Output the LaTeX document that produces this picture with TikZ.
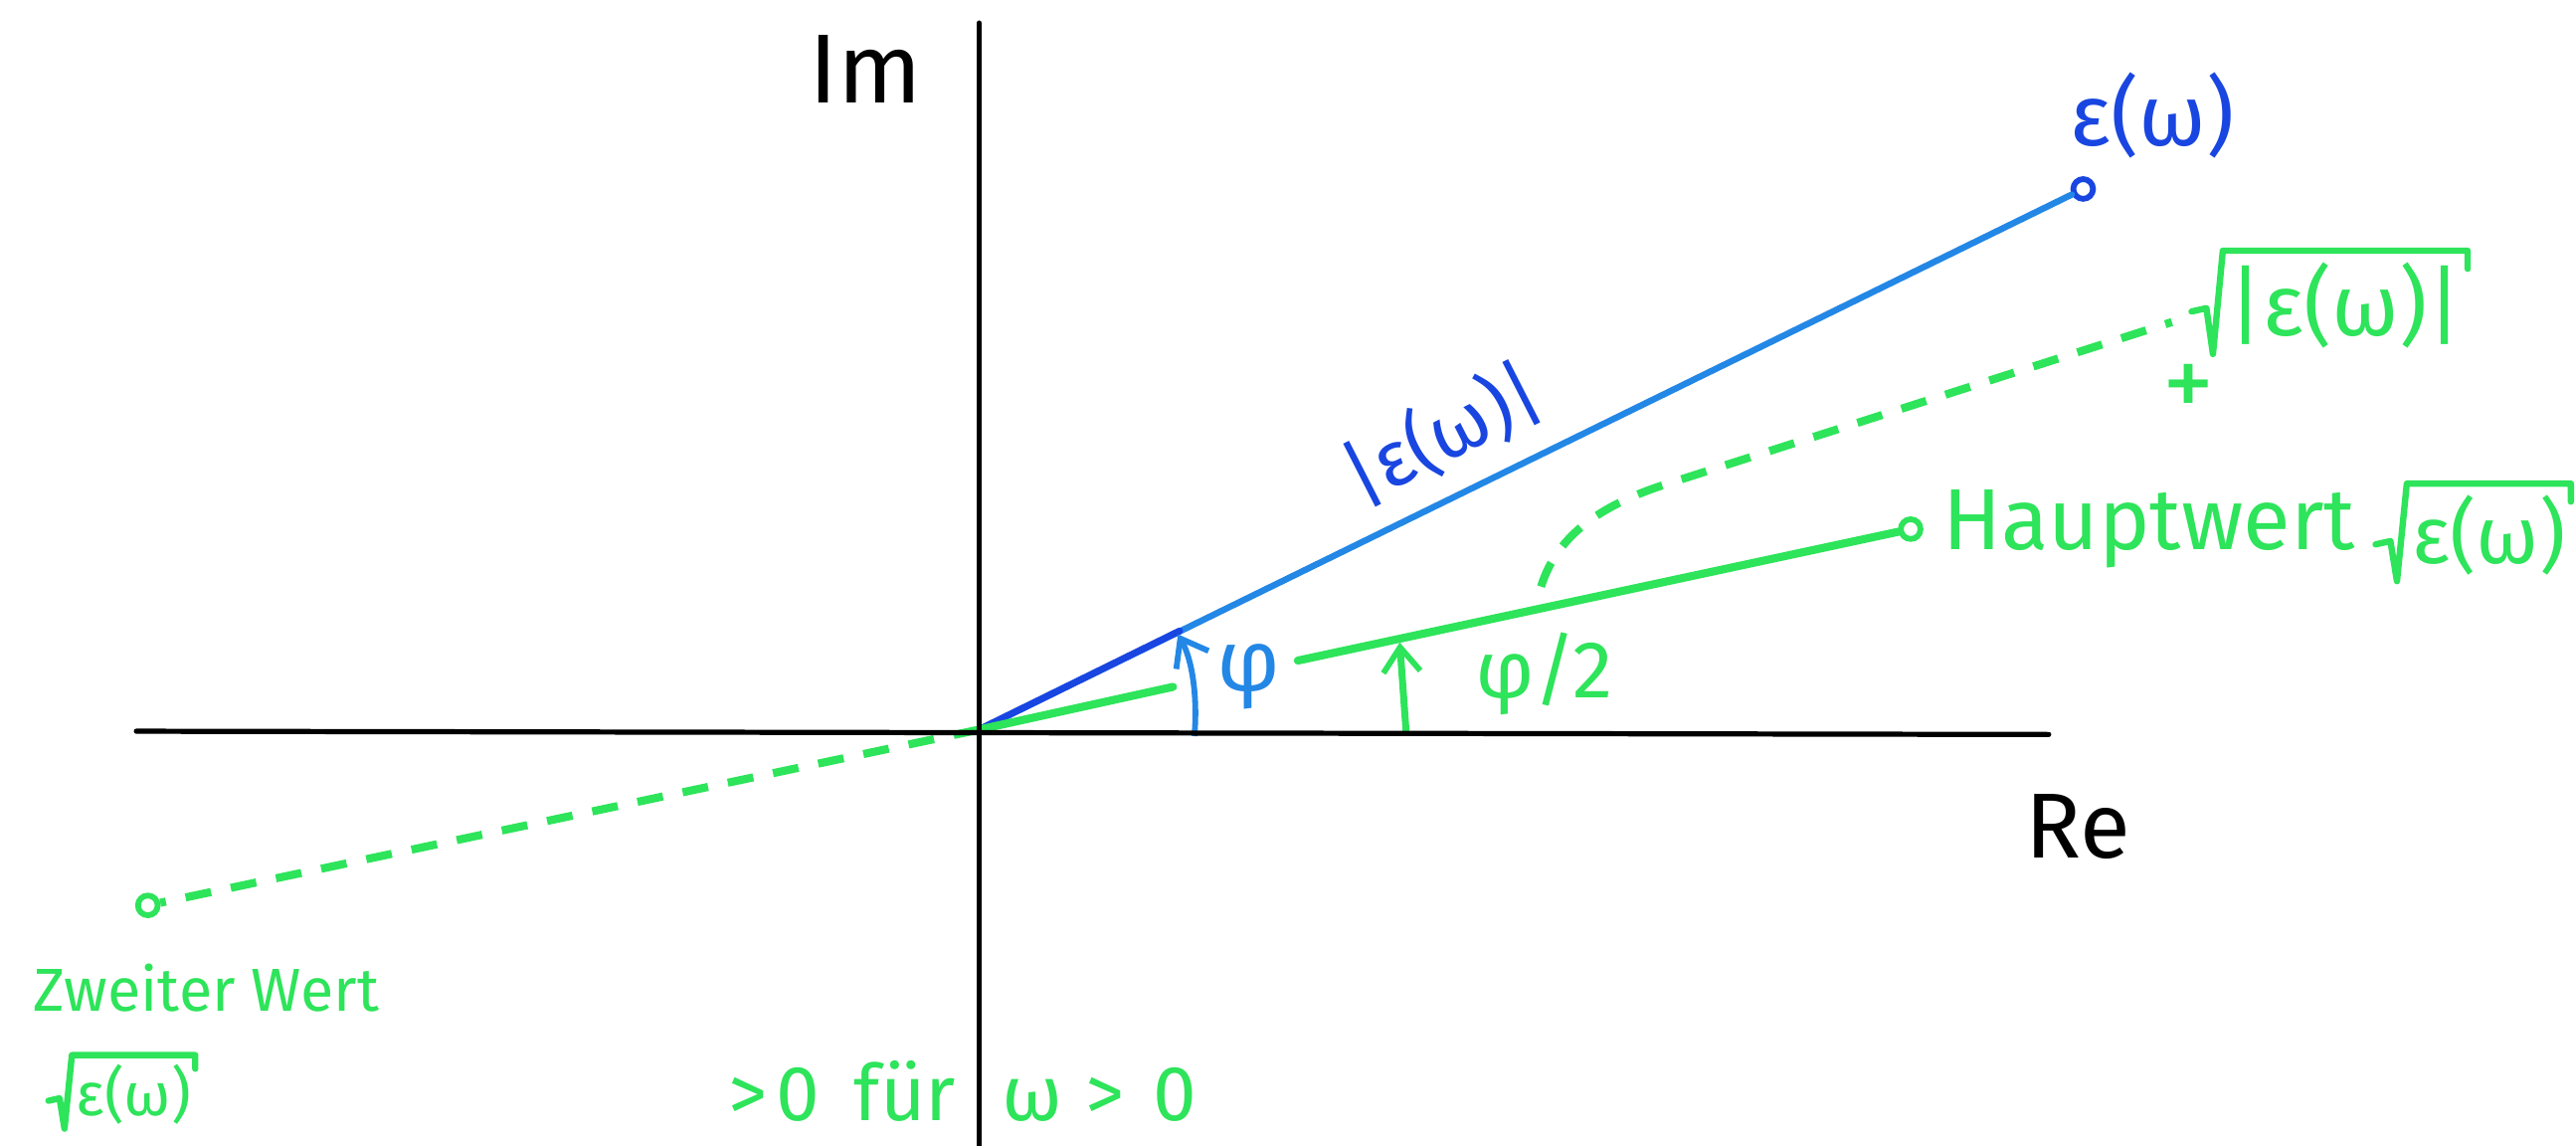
\documentclass[tikz,border=0pt]{standalone}
\usepackage{fontspec}
\setmainfont{Fira Sans}
\usetikzlibrary{arrows.meta}
\definecolor{bl}{RGB}{35,135,230}
\definecolor{dbl}{RGB}{25,70,225}
\definecolor{gr}{RGB}{45,228,90}
\newcommand\drawrad[2]{% node name, scale factor
  \draw[radline] ([shift={(-22*#2,30*#2)}]#1.north west) -- ([shift={(-13*#2,28*#2)}]#1.north west)
    -- ([shift={(-9*#2,3*#2)}]#1.south west) -- ([shift={(-3*#2,-7*#2)}]#1.north west)
    -- ([shift={(3*#2,-7*#2)}]#1.north east) -- ([shift={(3*#2,4*#2)}]#1.north east);}
\begin{document}
\begin{tikzpicture}[x=0.02cm,y=-0.02cm,
  hw/.style={font=\fontsize{#1}{#1}\selectfont, inner sep=0pt},
  axisline/.style={line width=1.8pt, black, line cap=round},
  bline/.style={line width=2.2pt, bl, line cap=round},
  gline/.style={line width=2.8pt, gr, line cap=round},
  gdash/.style={line width=2.8pt, gr, dash pattern=on 9pt off 7pt},
  radline/.style={line width=2.2pt, gr, line cap=round, line join=round},
  endcirc/.style={circle, draw=#1, line width=2pt, inner sep=0pt, minimum size=0.24cm, fill=white},
  tip/.style={-{Straight Barb[length=3mm,width=4.5mm,line width=2pt]}}]
\useasboundingbox (0,0) rectangle (1568,697);
\fill[white] (0,0) rectangle (1568,697);
% axes
\coordinate (O) at (596,444);
\coordinate (axL) at (83,445);
\coordinate (axR) at (1247,447);
\coordinate (axT) at (596,14);
\coordinate (axB) at (596,697);
\node[hw=34, black] (im) at (527,42) {Im};
\node[hw=32, black] (re) at (1265,503) {Re};
% blue vector
\node[endcirc=dbl] (E) at (1268,115) {};
\coordinate (Ephi) at (718,384);
\draw[bline] (O) -- (E);
\draw[line width=2.4pt, dbl, line cap=round] (O) -- (Ephi);
\node[hw=30, text=dbl] (Elab) at (1310,70) {ε(ω)};
\node[hw=27, text=dbl, rotate=27] (absE) at (878,264) {|ε(ω)|};
% phi arrow
\coordinate (pb) at (727,448);
\coordinate (pt) at (717,386);
\draw[bl, line width=2pt, tip] (pb) .. controls (729,425) and (726,402) .. (pt);
\node[hw=30, text=bl] (phi) at (760,412) {φ};
% green principal value
\node[endcirc=gr] (H) at (1163,322) {};
\coordinate (g1) at (714,418);
\coordinate (g2) at (790,402);
\draw[gline] (O) -- (g1);
\draw[gline] (g2) -- (H);
\node[hw=30, text=gr, anchor=west] (Hl) at (1182,322) {Hauptwert};
\node[hw=28, text=gr, anchor=west] (Hs) at (1468,326) {ε(ω)};
\drawrad{Hs}{1}
% phi/2 arrow
\coordinate (qb) at (856,447);
\coordinate (qt) at (852,391);
\draw[gr, line width=2.4pt, tip] (qb) -- (qt);
\node[hw=28, text=gr] (phi2) at (940,410) {φ/2};
% dashed magnitude curve
\coordinate (c0) at (938,357);
\coordinate (c1) at (1322,196);
\draw[gdash] (c0) .. controls (948,325) and (975,308) .. (1010,296) -- (c1);
\node[hw=30, text=gr, anchor=west] (sq) at (1356,186) {|ε(ω)|};
\drawrad{sq}{1}
\node[hw=36, text=gr] (plus) at (1332,238) {+};
% second value
\node[endcirc=gr] (Z) at (90,551) {};
\draw[gdash] (O) -- (Z);
\node[hw=21, text=gr, anchor=west] (zw) at (20,601) {Zweiter Wert};
\node[hw=21, text=gr, anchor=west] (zsq) at (46,666) {ε(ω)};
\drawrad{zsq}{0.75}
\node[hw=27, text=gr] (cond) at (586,664) {>\hspace{3pt}0\hspace{12pt}für\hspace{16pt}ω\hspace{8pt}>\hspace{10pt}0};
% axes drawn last
\draw[axisline] (axL) -- (axR);
\draw[axisline] (axT) -- (axB);
\end{tikzpicture}
\end{document}
